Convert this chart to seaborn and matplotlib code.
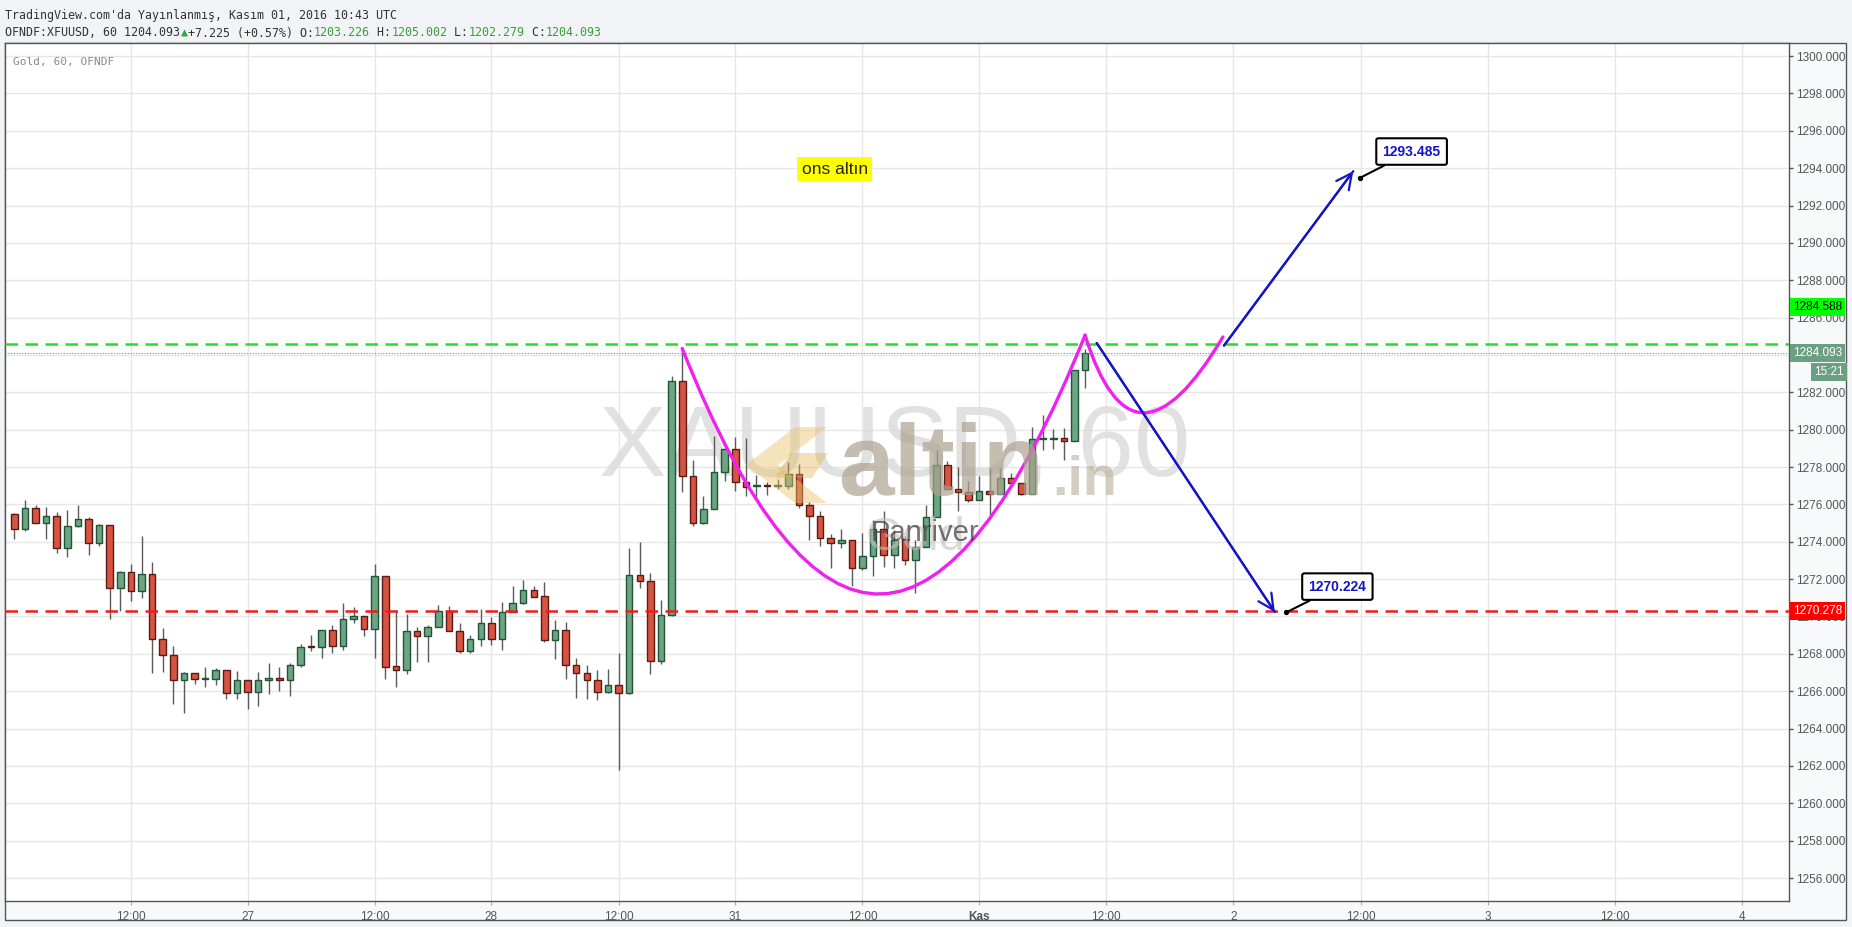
# XAUUSD 60 candles with cup & handle drawing (tradingview snapshot)
import numpy as np
import matplotlib
matplotlib.use("Agg")
import matplotlib.pyplot as plt
from matplotlib.path import Path
from matplotlib.patches import PathPatch, Rectangle, Polygon
import seaborn as sns

# hourly OHLC, one entry per bar
opens = [1275.46, 1274.66, 1275.79, 1274.98, 1275.36, 1273.64, 1274.82, 1275.20, 1273.91, 1274.88,
         1271.50, 1272.36, 1271.34, 1272.30, 1268.77, 1267.92, 1266.58, 1266.95, 1266.66, 1266.67,
         1267.11, 1265.88, 1266.58, 1265.97, 1266.62, 1266.64, 1266.59, 1267.40, 1268.37, 1268.36,
         1269.27, 1268.40, 1269.86, 1270.02, 1269.32, 1272.16, 1267.34, 1267.16, 1269.23, 1268.93,
         1269.43, 1270.30, 1269.22, 1268.15, 1268.79, 1269.64, 1268.82, 1270.25, 1270.73, 1271.41,
         1271.09, 1268.73, 1269.27, 1267.43, 1267.00, 1266.58, 1265.94, 1266.31, 1265.90, 1272.20,
         1271.92, 1267.60, 1270.07, 1282.59, 1277.54, 1275.00, 1275.75, 1277.72, 1278.97, 1277.18,
         1276.96, 1276.98, 1276.96, 1276.97, 1277.63, 1275.95, 1275.36, 1274.18, 1273.93, 1274.08,
         1272.60, 1273.22, 1274.68, 1273.27, 1274.15, 1273.04, 1273.72, 1275.33, 1278.13, 1276.83,
         1276.65, 1276.24, 1276.72, 1276.58, 1277.41, 1277.15, 1276.58, 1279.51, 1279.51, 1279.56,
         1279.39, 1283.18]
highs = [1275.55, 1276.23, 1275.96, 1275.88, 1275.57, 1275.70, 1275.96, 1275.30, 1274.97, 1274.90,
         1272.43, 1272.81, 1274.30, 1272.91, 1269.38, 1268.44, 1267.04, 1266.97, 1267.27, 1267.22,
         1267.13, 1267.08, 1266.60, 1267.02, 1267.50, 1267.29, 1267.50, 1268.54, 1269.00, 1269.27,
         1269.54, 1270.73, 1270.52, 1270.05, 1272.82, 1272.18, 1270.29, 1270.14, 1269.43, 1269.55,
         1270.63, 1270.54, 1269.64, 1269.00, 1270.39, 1269.97, 1270.75, 1271.64, 1271.96, 1271.64,
         1271.82, 1269.81, 1269.68, 1267.80, 1267.43, 1267.11, 1267.18, 1268.02, 1273.66, 1273.97,
         1272.33, 1270.90, 1282.89, 1284.37, 1278.40, 1276.43, 1279.64, 1279.00, 1279.61, 1279.56,
         1277.59, 1277.18, 1277.38, 1278.27, 1278.16, 1276.15, 1275.63, 1274.43, 1274.68, 1274.10,
         1274.47, 1275.18, 1275.63, 1274.65, 1274.33, 1274.08, 1275.99, 1278.93, 1278.31, 1278.00,
         1277.24, 1277.54, 1277.93, 1277.93, 1277.68, 1277.17, 1280.14, 1280.79, 1280.04, 1280.09,
         1283.20, 1284.30]
lows = [1274.16, 1274.60, 1274.98, 1274.16, 1273.38, 1273.20, 1274.77, 1273.27, 1273.75, 1269.84,
        1270.31, 1270.84, 1271.00, 1266.95, 1267.04, 1265.33, 1264.81, 1266.37, 1266.24, 1266.31,
        1265.61, 1265.61, 1265.04, 1265.21, 1265.86, 1265.99, 1265.77, 1267.29, 1268.13, 1267.79,
        1268.07, 1268.18, 1269.64, 1268.93, 1267.79, 1266.68, 1266.20, 1266.90, 1267.54, 1267.54,
        1269.43, 1269.22, 1268.07, 1268.07, 1268.40, 1268.50, 1268.18, 1270.25, 1270.68, 1271.04,
        1268.61, 1267.72, 1266.65, 1265.65, 1265.60, 1265.53, 1265.88, 1261.79, 1265.83, 1271.52,
        1266.92, 1267.46, 1270.05, 1276.66, 1274.83, 1274.95, 1275.75, 1277.24, 1276.70, 1276.43,
        1276.34, 1276.49, 1276.83, 1276.83, 1275.81, 1274.08, 1273.76, 1272.58, 1273.65, 1271.61,
        1272.51, 1272.15, 1272.65, 1272.60, 1272.76, 1271.26, 1273.72, 1275.33, 1276.79, 1275.63,
        1276.15, 1276.22, 1275.25, 1276.58, 1277.11, 1276.50, 1276.54, 1278.90, 1278.97, 1278.40,
        1279.39, 1282.23]
closes = [1274.66, 1275.79, 1274.98, 1275.36, 1273.64, 1274.82, 1275.20, 1273.91, 1274.88, 1271.50,
          1272.36, 1271.34, 1272.30, 1268.77, 1267.92, 1266.58, 1266.95, 1266.63, 1266.68, 1267.13,
          1265.88, 1266.58, 1265.97, 1266.58, 1266.64, 1266.62, 1267.40, 1268.36, 1268.35, 1269.27,
          1268.40, 1269.86, 1270.02, 1269.32, 1272.16, 1267.32, 1267.16, 1269.23, 1268.93, 1269.43,
          1270.30, 1269.22, 1268.15, 1268.79, 1269.64, 1268.82, 1270.25, 1270.73, 1271.41, 1271.07,
          1268.73, 1269.27, 1267.43, 1267.00, 1266.58, 1265.94, 1266.31, 1265.88, 1272.20, 1271.88,
          1267.60, 1270.10, 1282.59, 1277.54, 1275.00, 1275.75, 1277.72, 1278.97, 1277.18, 1276.93,
          1276.98, 1276.96, 1276.98, 1277.63, 1275.95, 1275.36, 1274.20, 1273.93, 1274.08, 1272.60,
          1273.22, 1274.68, 1273.27, 1274.11, 1273.04, 1273.72, 1275.33, 1278.13, 1276.83, 1276.65,
          1276.24, 1276.72, 1276.58, 1277.41, 1277.13, 1276.58, 1279.52, 1279.53, 1279.53, 1279.39,
          1283.18, 1284.093]

tick_pos = [11, 22, 34, 45, 57, 68, 80, 91, 103, 115, 127, 139, 151, 163]
tick_labels = ["12:00", "27", "12:00", "28", "12:00", "31", "12:00", "Kas",
               "12:00", "2", "12:00", "3", "12:00", "4"]
price_ticks = list(range(1256, 1302, 2))

green_level = 1284.588
red_level = 1270.278
last_price = 1284.093
last_time = "15:21"

# drawings (bar index, price)
cup_x = [63.0, 81.6, 101.0]
cup_y = [1284.35, 1257.7, 1285.06]
handle_x = [101.0, 105.5, 114.0]
handle_y = [1285.06, 1276.8, 1284.96]
down_x = [102.1, 118.9]
down_y = [1284.64, 1270.24]
up_x = [114.1, 126.3]
up_y = [1284.50, 1293.84]
target_x = [126.95, 120.0]
target_y = [1293.485, 1270.224]
target_box_x = [131.8, 124.8]
target_box_y = [1294.89, 1271.60]

UP, DOWN = "#6ba583", "#d75442"
UP_EDGE, DOWN_EDGE = "#225437", "#5b1a13"
BLUE = "#1414c8"

sns.set_style("white")
plt.rcParams["font.family"] = ["Liberation Sans", "DejaVu Sans"]

W, H = 1852, 927
fig = plt.figure(figsize=(W / 100, H / 100), dpi=100)
fig.patch.set_facecolor("#f1f3f6")
fig.patches.append(Rectangle((5 / W, 1 - 920 / H), 1841 / W, 877 / H, transform=fig.transFigure,
                             facecolor="#f8f9fa", edgecolor="#555555", lw=1, zorder=-10))
ax = fig.add_axes([5 / W, 1 - 901 / H, 1784 / W, 858 / H])
ax.set_zorder(1)
ax.set_facecolor("white")

idx = np.arange(len(opens))
o, h, l, c = map(np.array, (opens, highs, lows, closes))
up = c >= o

# candles
ax.vlines(idx, l, h, color="#5a5a5a", lw=1, zorder=3)
ax.bar(idx, np.maximum(np.abs(c - o), 0.07), bottom=np.minimum(o, c), width=0.62,
       color=np.where(up, UP, DOWN), edgecolor=np.where(up, UP_EDGE, DOWN_EDGE), lw=1, zorder=4)

# level lines
ax.axhline(green_level, color="#22e022", lw=1.8, ls=(0, (5, 3)), zorder=6)
ax.axhline(red_level, color="#ee1c1c", lw=1.8, ls=(0, (5, 3)), zorder=6)
ax.axhline(last_price, color="#6a9a80", lw=0.8, ls=(0, (1, 1.5)), zorder=5)

# cup and handle curves
for px, py in ((cup_x, cup_y), (handle_x, handle_y)):
    path = Path(list(zip(px, py)), [Path.MOVETO, Path.CURVE3, Path.CURVE3])
    ax.add_patch(PathPatch(path, facecolor="none", edgecolor="#f020f0", lw=2.4, zorder=7,
                           capstyle="round"))

# projection arrows
for lx, ly in ((down_x, down_y), (up_x, up_y)):
    sns.lineplot(x=lx, y=ly, ax=ax, color=BLUE, lw=1.6, zorder=7, sort=False)
    ax.annotate("", xy=(lx[1], ly[1]), xytext=(lx[0], ly[0]), zorder=7,
                arrowprops=dict(arrowstyle="->,head_length=0.8,head_width=0.4", color=BLUE,
                                lw=1.6, shrinkA=0, shrinkB=0, mutation_scale=14))

# price target callouts
for tx, ty, bx, by in zip(target_x, target_y, target_box_x, target_box_y):
    ax.annotate(f"{ty:.3f}", xy=(tx, ty), xytext=(bx, by), ha="center", va="center",
                fontsize=10, fontweight="bold", color=BLUE, zorder=9,
                bbox=dict(boxstyle="round,pad=0.45,rounding_size=0.15", fc="white", ec="black", lw=1.5),
                arrowprops=dict(arrowstyle="-", color="black", lw=1.5, shrinkA=0, shrinkB=2))
ax.scatter(target_x, target_y, s=8, color="black", zorder=10)

ax.text(77.4, 1293.95, "ons altın", fontsize=12.5, ha="center", va="center", zorder=9,
        bbox=dict(boxstyle="square,pad=0.25", fc="#ffff00", ec="none"))

# watermarks (pixel positions -> axes fraction)
def axf(px, py):
    return ((px - 5) / 1784, (901 - py) / 858)

ax.text(*axf(895, 476), "XAUUSD, 60", transform=ax.transAxes, fontsize=73, color="#d8d8d8",
        alpha=0.75, ha="center", va="baseline", zorder=1)
chev = [axf(*p) for p in [(795, 427), (827, 427), (778, 465), (827, 503), (795, 503), (746, 465)]]
ax.add_patch(Polygon(chev, closed=True, transform=ax.transAxes, fc="#e9c46a", ec="none",
                     alpha=0.45, zorder=8))
ax.add_patch(Polygon([axf(*p) for p in [(790, 453), (828, 453), (812, 478), (775, 478)]],
                     closed=True, transform=ax.transAxes, fc="#e2b24e", ec="none", alpha=0.4, zorder=8))
ax.text(*axf(838, 495), "altin", transform=ax.transAxes, fontsize=72, fontweight="bold",
        color="#ada38f", alpha=0.7, ha="left", va="baseline", zorder=8)
ax.text(*axf(1052, 495), ".in", transform=ax.transAxes, fontsize=40, fontweight="bold",
        color="#b8ae9b", alpha=0.6, ha="left", va="baseline", zorder=8)
ax.text(*axf(866, 550), "Gold", transform=ax.transAxes, fontsize=34, color="#c4c0b8",
        alpha=0.6, ha="left", va="baseline", zorder=8)
ax.text(*axf(871, 541), "Panriver", transform=ax.transAxes, fontsize=21, color="#444444",
        alpha=0.75, ha="left", va="baseline", zorder=8)

ax.text(0.0045, 0.978, "Gold, 60, OFNDF", transform=ax.transAxes, fontsize=8,
        family="DejaVu Sans Mono", color="#8a8a8a", va="center")

# axes
ax.set_xlim(-0.88, 167.4)
ax.set_ylim(1254.77, 1300.7)
ax.set_xticks(tick_pos)
ax.set_xticklabels(tick_labels)
ax.set_yticks(price_ticks)
ax.set_yticklabels([f"{p:.3f}" for p in price_ticks])
ax.yaxis.tick_right()
ax.grid(True, color="#e6e6e6", lw=1)
ax.set_axisbelow(True)
ax.tick_params(axis="y", right=True, length=3, width=1, color="#555555", labelsize=8.5,
               labelcolor="#555555", pad=2)
ax.tick_params(axis="x", bottom=True, length=3, color="#aaaaaa", labelsize=8.5,
               labelcolor="#555555", pad=4)
for lab in ax.get_xticklabels():
    if lab.get_text() == "Kas":
        lab.set_fontweight("bold")
for s in ax.spines.values():
    s.set_color("#555555")
    s.set_linewidth(1)

# price scale labels
ytr = ax.get_yaxis_transform()
lab_kw = dict(xycoords=ytr, textcoords="offset pixels", ha="left", va="center", fontsize=8.5,
              annotation_clip=False, zorder=12)
ax.annotate(f"{green_level:.3f}", xy=(1, green_level), xytext=(4, 37), color="black",
            bbox=dict(boxstyle="square,pad=0.25", fc="#00ff00", ec="none"), **lab_kw)
ax.annotate(f"{last_price:.3f}", xy=(1, last_price), xytext=(4, 0), color="white",
            bbox=dict(boxstyle="square,pad=0.25", fc="#6a9f82", ec="none"), **lab_kw)
ax.annotate(last_time, xy=(1, last_price), xytext=(25, -19), color="white",
            bbox=dict(boxstyle="square,pad=0.25", fc="#6a9f82", ec="none"), **lab_kw)
ax.annotate(f"{red_level:.3f}", xy=(1, red_level), xytext=(4, 0), color="white",
            bbox=dict(boxstyle="square,pad=0.25", fc="#ff0000", ec="none"), **lab_kw)

# header lines
mono = ["DejaVu Sans Mono", "DejaVu Sans"]
fig.text(5 / W, 1 - 15 / H, "TradingView.com'da Yayınlanmış, Kasım 01, 2016 10:43 UTC",
         family=mono, fontsize=8.4, color="#333333", va="center")
segments = [("OFNDF:XFUUSD, 60 1204.093", "#333333"), ("▲", "#28a745"),
            ("+7.225 (+0.57%) O:", "#333333"), ("1203.226", "#3a9e3a"), (" H:", "#333333"),
            ("1205.002", "#3a9e3a"), (" L:", "#333333"), ("1202.279", "#3a9e3a"),
            (" C:", "#333333"), ("1204.093", "#3a9e3a")]
char_px = 8.4 * 100 / 72 * 0.602
n = 0
for txt, col in segments:
    fig.text((5 + n * char_px) / W, 1 - 33 / H, txt, family=mono, fontsize=8.4, color=col,
             va="center")
    n += len(txt)

fig.savefig("out.png", dpi=100, facecolor=fig.get_facecolor())
